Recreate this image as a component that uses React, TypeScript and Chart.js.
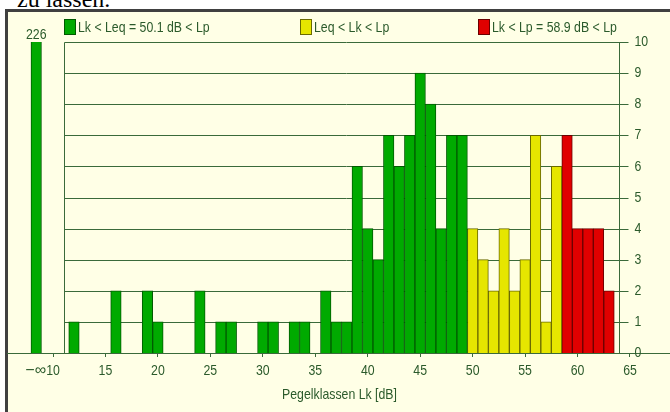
import React, { useEffect, useRef } from "react";
import { Chart, registerables } from "chart.js";

Chart.register(...registerables);

// ---- data ----
const minusInfLabel = "\u2212\u221E";
const minusInfPos = 8.4; // where the "−∞" class is drawn on the dB axis
const minusInfCount = 226;

const greenLevels = [12, 16, 19, 20, 24, 26, 27, 30, 31, 33, 34, 36, 37, 38, 39, 40, 41, 42, 43, 44, 45, 46, 47, 48, 49];
const greenCounts = [1, 2, 2, 1, 2, 1, 1, 1, 1, 1, 1, 2, 1, 1, 6, 4, 3, 7, 6, 7, 9, 8, 4, 7, 7];
const yellowLevels = [50, 51, 52, 53, 54, 55, 56, 57, 58];
const yellowCounts = [4, 3, 2, 4, 2, 3, 7, 1, 6];
const redLevels = [59, 60, 61, 62, 63];
const redCounts = [7, 4, 4, 4, 2];

const xTicks = [10, 15, 20, 25, 30, 35, 40, 45, 50, 55, 60, 65];
const yTicks = [0, 1, 2, 3, 4, 5, 6, 7, 8, 9, 10];
const legendLabels = ["Lk < Leq = 50.1 dB < Lp", "Leq < Lk < Lp", "Lk < Lp = 58.9 dB < Lp"];
const xTitle = "Pegelklassen Lk [dB]";

// ---- style ----
const FONT = "'Liberation Sans', Arial, sans-serif";
const FS = 15;
const NARROW = 0.82;
const textColor = "#2b5a2b";
const lineColor = "#3a6a3a";
const fills = ["#00aa00", "#e6e600", "#e00000"];
const borders = ["#005a00", "#6a6a00", "#6a0000"];
const legendX = [64, 300, 478];
const gridFrom = 11.05;
const gridTo = 63.98;

function narrowText(
  ctx: CanvasRenderingContext2D,
  t: string,
  x: number,
  y: number,
  align: CanvasTextAlign,
  sx: number = NARROW,
  size: number = FS
) {
  ctx.save();
  ctx.translate(x, y);
  ctx.scale(sx, 1);
  ctx.font = `${size}px ${FONT}`;
  ctx.fillStyle = textColor;
  ctx.textAlign = align;
  ctx.textBaseline = "middle";
  ctx.fillText(t, 0, 0);
  ctx.restore();
}

const boxPlugin = {
  id: "box",
  beforeDatasetsDraw(chart: any) {
    const { ctx } = chart;
    const xs = chart.scales.x;
    const ys = chart.scales.y;
    const l = Math.round(xs.getPixelForValue(gridFrom)) + 0.5;
    const r = Math.round(xs.getPixelForValue(gridTo)) + 0.5;
    const top = Math.round(ys.getPixelForValue(10)) + 0.5;
    const bot = Math.round(ys.getPixelForValue(0)) + 0.5;
    ctx.save();
    ctx.strokeStyle = lineColor;
    ctx.lineWidth = 1;
    ctx.beginPath();
    for (const v of yTicks) {
      const y = Math.round(ys.getPixelForValue(v)) + 0.5;
      if (v > 0) {
        ctx.moveTo(l, y);
        ctx.lineTo(r + 9, y);
      }
    }
    ctx.moveTo(l, top);
    ctx.lineTo(l, bot);
    ctx.moveTo(r, top);
    ctx.lineTo(r, bot);
    ctx.stroke();
    ctx.restore();
    for (const v of yTicks) {
      narrowText(ctx, String(v), r + 15, ys.getPixelForValue(v), "left");
    }
  },
  afterDraw(chart: any) {
    const { ctx } = chart;
    const xs = chart.scales.x;
    const area = chart.chartArea;
    // x tick labels
    for (const t of xs.ticks) {
      if (t.value === minusInfPos) {
        narrowText(ctx, minusInfLabel, xs.getPixelForValue(t.value) - 0.5, area.bottom + 18, "center", 1, 16);
      } else {
        narrowText(ctx, String(t.value), xs.getPixelForValue(t.value), area.bottom + 18, "center");
      }
    }
    narrowText(ctx, xTitle, (area.left + area.right) / 2 + 1, area.bottom + 42, "center");
    narrowText(ctx, String(minusInfCount), xs.getPixelForValue(minusInfPos), area.top - 7.5, "center");
    // legend
    legendLabels.forEach((t, i) => {
      const x = legendX[i];
      ctx.save();
      ctx.fillStyle = fills[i];
      ctx.fillRect(x, 19, 12, 16);
      ctx.strokeStyle = borders[i];
      ctx.lineWidth = 1;
      ctx.strokeRect(x + 0.5, 19.5, 11, 15);
      ctx.restore();
      narrowText(ctx, t, x + 14, 27.5, "left");
    });
  },
};

export default function App() {
  const ref = useRef<HTMLCanvasElement>(null);
  useEffect(() => {
    if (!ref.current) return;
    const mk = (xs: number[], ys: number[]) => xs.map((x, i) => ({ x, y: ys[i] }));
    const common = {
      borderWidth: 1,
      barPercentage: 1,
      categoryPercentage: 1,
      grouped: false,
      clip: 0,
    };
    const chart = new Chart(ref.current, {
      type: "bar",
      data: {
        datasets: [
          {
            ...common,
            label: legendLabels[0],
            data: [{ x: minusInfPos, y: minusInfCount }, ...mk(greenLevels, greenCounts)],
            backgroundColor: fills[0],
            borderColor: borders[0],
          },
          {
            ...common,
            label: legendLabels[1],
            data: mk(yellowLevels, yellowCounts),
            backgroundColor: fills[1],
            borderColor: borders[1],
          },
          {
            ...common,
            label: legendLabels[2],
            data: mk(redLevels, redCounts),
            backgroundColor: fills[2],
            borderColor: borders[2],
          },
        ] as any,
      },
      options: {
        responsive: false,
        animation: false,
        layout: { padding: { left: 7, right: 0, top: 42, bottom: 55 } },
        plugins: { legend: { display: false }, tooltip: { enabled: false } },
        scales: {
          x: {
            type: "linear",
            offset: false,
            min: 5.615,
            max: 68.813,
            afterBuildTicks: (scale: any) => {
              scale.ticks = [{ value: minusInfPos }, ...xTicks.map((v) => ({ value: v }))];
            },
            ticks: { display: false, autoSkip: false, maxRotation: 0 },
            grid: {
              offset: false,
              drawOnChartArea: false,
              tickLength: 4,
              color: (c: any) => (c.tick && c.tick.value === minusInfPos ? "rgba(0,0,0,0)" : lineColor),
            },
            border: { color: lineColor, width: 1 },
            title: { display: false, text: xTitle },
          },
          y: { display: false, min: 0, max: 10 },
        },
      } as any,
      plugins: [boxPlugin],
    });
    return () => chart.destroy();
  }, []);

  return (
    <div style={{ position: "fixed", left: 0, top: 0, width: 670, height: 412, overflow: "hidden", background: "#ffffff" }}>
      <div
        style={{
          position: "absolute",
          left: 17,
          top: -13,
          fontFamily: "'Liberation Serif', serif",
          fontSize: 24,
          lineHeight: "24px",
          whiteSpace: "nowrap",
          color: "#000",
        }}
      >
        zu lassen.
      </div>
      <div
        style={{
          position: "absolute",
          left: 5,
          top: 9,
          width: 720,
          height: 440,
          background: "#ffffe6",
          borderTop: "3px solid #404040",
          borderLeft: "3px solid #404040",
        }}
      />
      <canvas ref={ref} width={670} height={412} style={{ position: "absolute", left: 0, top: 0, width: 670, height: 412 }} />
    </div>
  );
}
